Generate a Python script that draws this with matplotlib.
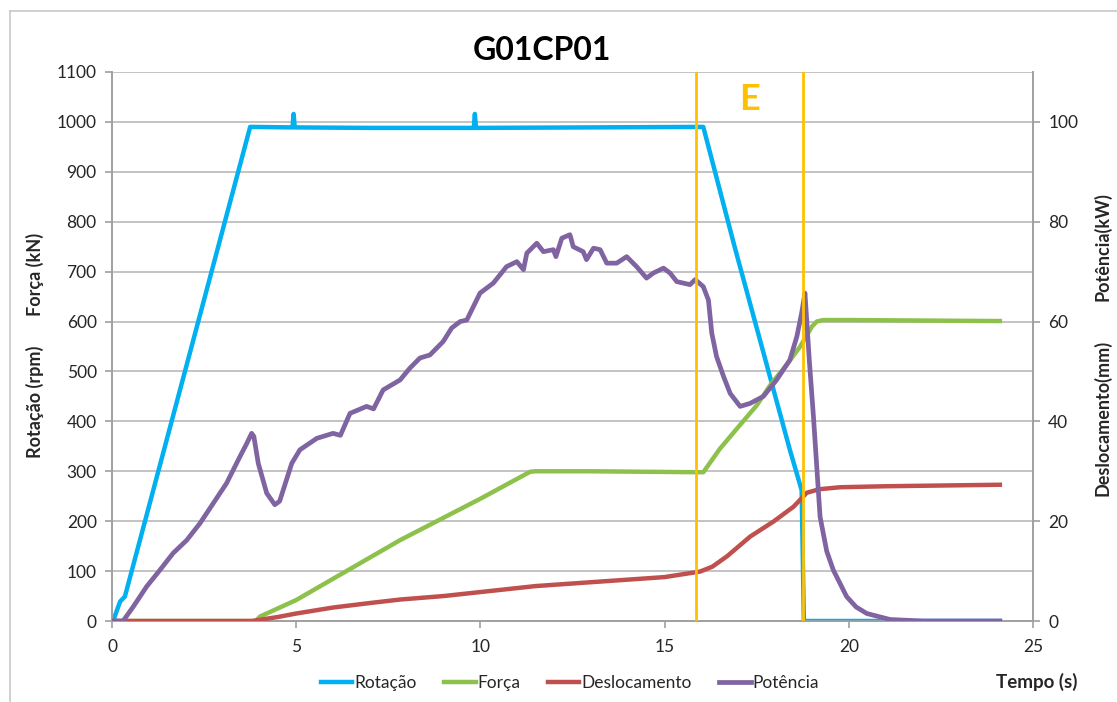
import matplotlib
matplotlib.use("Agg")
import matplotlib.pyplot as plt
from matplotlib.lines import Line2D

plt.rcParams['font.family'] = ['Lato', 'DejaVu Sans']

# ---------------- data ----------------
rot_t = [0, 0.03, 0.22, 0.35, 3.75, 4.9, 4.93, 4.96, 7.0, 9.82, 9.85, 9.88, 13.0, 16.05, 16.9, 18.4, 18.72, 18.78, 24.1]
rot_v = [0, 0, 39, 49, 990, 989, 1016, 989, 988, 988, 1016, 988, 989, 990, 750, 343, 262, 0, 0]

forca_t = [0, 3.9, 4.02, 5.0, 7.82, 10.0, 11.35, 11.5, 13, 14.5, 16.05, 16.5, 17.05, 17.5, 17.9, 18.3, 18.68, 19.0, 19.13, 19.3, 20, 22, 24.1]
forca_v = [0, 0, 9, 42, 162, 245, 299, 300, 300, 299, 298, 345, 393, 432, 476, 512, 550, 590, 600, 603, 603, 602, 601]

desl_t = [0, 3.8, 4.5, 5.0, 6.0, 7.0, 7.82, 9.0, 10.0, 11.5, 13.25, 15.0, 15.96, 16.3, 16.7, 17.32, 17.95, 18.5, 18.86, 19.2, 19.76, 21, 24.1]
desl_v = [0, 0, 0.8, 1.5, 2.7, 3.6, 4.3, 5.0, 5.8, 7.0, 7.9, 8.8, 9.9, 10.9, 13.0, 16.9, 19.9, 22.9, 25.7, 26.4, 26.8, 27.0, 27.3]

pot_t = [0, 0.3, 0.58, 0.94, 1.3, 1.66, 2.03, 2.39, 2.75, 3.11, 3.47, 3.66, 3.79, 3.85, 3.97,
         4.2, 4.42, 4.55, 4.65, 4.88, 5.1, 5.56, 6.0, 6.2, 6.46, 6.91, 7.1, 7.36, 7.82, 8.09,
         8.36, 8.63, 8.99, 9.22, 9.45, 9.63, 9.99, 10.35, 10.71, 10.99, 11.17, 11.26, 11.53, 11.71,
         11.98, 12.05, 12.21, 12.43, 12.52, 12.79, 12.88, 13.07, 13.25, 13.43, 13.7, 13.97, 14.24,
         14.51, 14.69, 14.97, 15.15, 15.33, 15.69, 15.83, 16.05, 16.19, 16.28, 16.41, 16.6, 16.78,
         17.05, 17.32, 17.68, 18.04, 18.4, 18.59, 18.72, 18.81, 18.93, 19.04, 19.22, 19.4, 19.58,
         19.94, 20.2, 20.49, 21.12, 22, 24.1]
pot_v = [0, 0, 2.9, 6.9, 10.2, 13.6, 16.2, 19.6, 23.6, 27.6, 32.9, 35.6, 37.6, 37.0, 31.6,
         25.6, 23.3, 24.0, 26.3, 31.6, 34.3, 36.6, 37.6, 37.2, 41.6, 43.0, 42.5, 46.3, 48.3, 50.7,
         52.7, 53.3, 56.0, 58.7, 60.0, 60.3, 65.7, 67.7, 71.0, 72.0, 70.4, 73.7, 75.7, 74.0,
         74.4, 73.0, 76.7, 77.4, 75.0, 74.0, 72.4, 74.7, 74.4, 71.7, 71.7, 73.0, 71.0,
         68.7, 69.7, 70.7, 69.7, 68.0, 67.4, 68.4, 67.0, 64.3, 57.7, 53.0, 49.0, 45.6,
         43.0, 43.6, 45.0, 48.3, 52.3, 57.0, 61.7, 65.7, 52.0, 41.0, 20.9, 14.0, 10.2,
         4.9, 2.8, 1.5, 0.3, 0, 0]

marker_t = [15.85, 18.75]
left_ticks = list(range(0, 1101, 100))
right_ticks = list(range(0, 101, 20))
x_ticks = [0, 5, 10, 15, 20, 25]

# ---------------- style ----------------
C_ROT = '#00B0F0'
C_FOR = '#8DC14C'
C_DES = '#C0504D'
C_POT = '#8064A2'
C_YEL = '#FFC000'
GRID = '#BEBEBE'
TXT = '#262626'

fig = plt.figure(figsize=(11.17, 7.02), dpi=100)
ax = fig.add_axes([112/1117, 1-621/702, (1033-112)/1117, (621-72)/702])
ax2 = ax.twinx()

ax.plot(rot_t, rot_v, color=C_ROT, lw=3.2, solid_joinstyle='round', label='Rotação', zorder=3)
ax.plot(forca_t, forca_v, color=C_FOR, lw=3.2, label='Força', zorder=3)
ax2.plot(desl_t, desl_v, color=C_DES, lw=3.2, label='Deslocamento', zorder=3)
ax2.plot(pot_t, pot_v, color=C_POT, lw=3.4, label='Potência', zorder=4)
for t in marker_t:
    ax2.axvline(t, color=C_YEL, lw=2, zorder=5)
ax2.text(17.3, 104.5, 'E', color=C_YEL, fontsize=26, fontweight='bold', ha='center', va='center')

ax.set_xlim(0, 25)
ax.set_ylim(0, 1100)
ax2.set_ylim(0, 110)
ax.set_xticks(x_ticks)
ax.set_yticks(left_ticks)
ax2.set_yticks(right_ticks)
ax.yaxis.grid(True, color=GRID, lw=1.3)
ax.set_axisbelow(True)

for a in (ax, ax2):
    a.spines['top'].set_visible(False)
    for s in ('left', 'right', 'bottom'):
        a.spines[s].set_color('#A0A0A0')
        a.spines[s].set_linewidth(1.2)
    a.tick_params(colors='#A0A0A0', labelcolor=TXT, labelsize=12.5, length=5, width=1.2)
ax.tick_params(axis='x', pad=8)
ax.tick_params(axis='y', pad=6)
ax2.tick_params(axis='y', pad=6)

fig.text(542/1117, 1-50/702, 'G01CP01', fontsize=23, fontweight='bold', ha='center', va='center', color='black')

lab_kw = dict(rotation=90, fontsize=13, fontweight='bold', ha='center', va='center', color=TXT)
fig.text(35/1117, 1-402/702, 'Rotação (rpm)', **lab_kw)
fig.text(35/1117, 1-274/702, 'Força (kN)', **lab_kw)
fig.text(1102/1117, 1-418/702, 'Deslocamento(mm)', **lab_kw)
fig.text(1102/1117, 1-247/702, 'Potência(kW)', **lab_kw)
fig.text(1037/1117, 1-682/702, 'Tempo (s)', fontsize=13.5, fontweight='bold', ha='center', va='center', color=TXT)

handles = ax.get_lines() + ax2.get_lines()[:2]
fig.legend(handles=handles[:4], labels=['Rotação', 'Força', 'Deslocamento', 'Potência'],
           loc='center', bbox_to_anchor=(570/1117, 1-683/702), ncol=4, frameon=False,
           fontsize=12.5, handlelength=1.8, handletextpad=0.1, columnspacing=1.6,
           labelcolor=TXT)

# figure border (top and left edges)
fig.add_artist(Line2D([10/1117, 1], [1-11/702, 1-11/702], color='#C8C8C8', lw=1.2, transform=fig.transFigure))
fig.add_artist(Line2D([10/1117, 10/1117], [0, 1-11/702], color='#C8C8C8', lw=1.2, transform=fig.transFigure))

fig.savefig('out.png', dpi=100)
